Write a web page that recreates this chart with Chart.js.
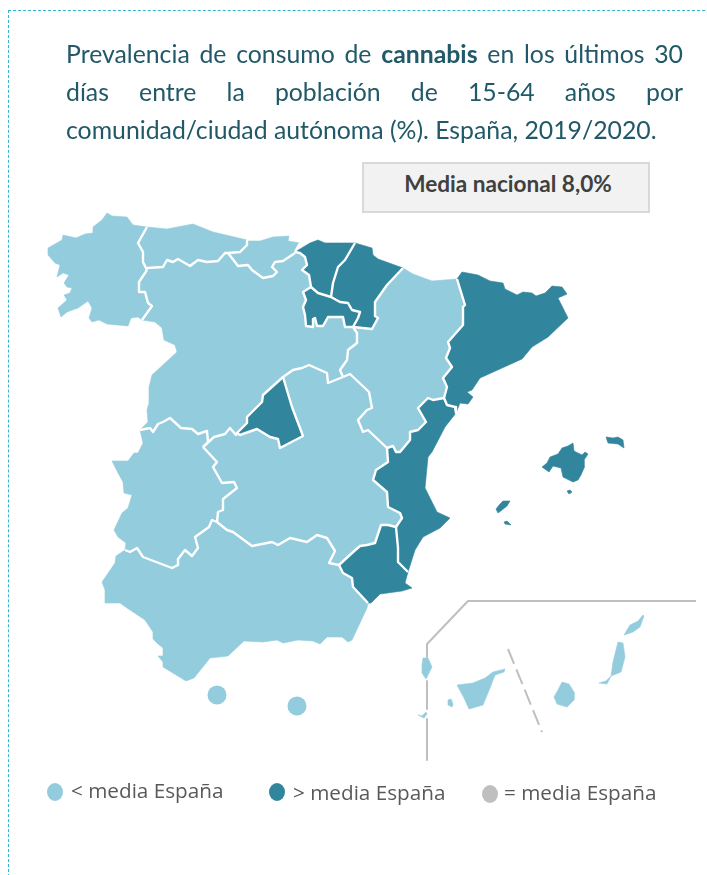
<!DOCTYPE html>
<html lang="es">
<head>
<meta charset="utf-8">
<title>Prevalencia de consumo de cannabis</title>
<script src="https://cdn.jsdelivr.net/npm/chart.js@4"></script>
<style>
    html, body { margin: 0; padding: 0; background: #fff; }
    #page { position: relative; width: 707px; height: 875px; overflow: hidden; }
    #frame { position: absolute; left: 8px; top: 10px; width: 720px; height: 900px; border: 1px dashed #35b5cf; }
    #mapChart { position: absolute; left: 0; top: 0; }
    #title { position: absolute; left: 66px; top: 35px; width: 617px; font: 24.8px/38px Lato, sans-serif; color: #215968; }
    #title div { text-align: justify; text-align-last: justify; white-space: nowrap; }
    #title div.last { text-align-last: left; }
    #mediaBox { position: absolute; left: 362px; top: 162px; width: 284px; height: 47px; background: #f2f2f2; border: 2px solid #d9d9d9;
        font: bold 22.6px/39px Lato, sans-serif; color: #404040; text-align: center; text-indent: 4px; }
    .legendText { position: absolute; font: 20.7px/24px "Open Sans", sans-serif; color: #595959; white-space: nowrap; }
    .legendDot { position: absolute; width: 16px; height: 18px; border-radius: 50%; }
</style>
</head>
<body>
<div id="page">
    <div id="frame"></div>
    <canvas id="mapChart" width="707" height="875"></canvas>
    <div id="title">
        <div>Prevalencia de consumo de <b>cannabis</b> en los últimos 30</div>
        <div>días entre la población de 15-64 años por</div>
        <div class="last">comunidad/ciudad autónoma (%). España, 2019/2020.</div>
    </div>
    <div id="mediaBox">Media nacional 8,0%</div>
    <div class="legendDot" style="left:47px;top:783px;background:#93ccdd"></div>
    <div class="legendText" style="left:71px;top:778px">&lt; media España</div>
    <div class="legendDot" style="left:269px;top:783px;background:#31859c"></div>
    <div class="legendText" style="left:293px;top:780px">&gt; media España</div>
    <div class="legendDot" style="left:482px;top:785px;background:#bfbfbf"></div>
    <div class="legendText" style="left:504px;top:780px">= media España</div>
</div>

<script>
// region outlines
const galicia = [[48,248],[62,240],[63,235],[76,238],[85,234],[93,233],[93,227],[102,220],[107,213],[112,216],[127,217],[133,225],[147,227],[138,243],[143,252],[143,262],[147,270],[139,282],[139,292],[145,292],[148,303],[152,306],[142,320],[138,317],[131,318],[128,326],[107,324],[99,320],[92,322],[89,318],[92,308],[88,301],[78,308],[67,312],[61,317],[58,308],[67,300],[64,295],[70,293],[72,288],[67,287],[64,283],[69,275],[63,273],[57,277],[60,265],[55,263],[48,255]];
const asturias = [[147,227],[167,229],[193,224],[213,232],[247,240],[247,245],[240,252],[228,253],[225,253],[218,261],[207,262],[198,260],[190,266],[178,259],[173,262],[167,260],[163,267],[147,268],[143,262],[143,252],[138,243]];
const cantabria = [[247,241],[260,241],[273,237],[289,236],[288,241],[300,243],[295,253],[283,261],[275,262],[272,267],[277,272],[273,276],[263,278],[252,270],[248,265],[238,266],[230,258],[228,253],[240,252],[247,245]];
const paisVasco = [[295,252],[310,243],[318,240],[325,243],[355,243],[345,260],[338,267],[333,283],[331,297],[318,293],[311,287],[309,275],[302,270],[307,265],[305,257],[300,253]];
const navarra = [[355,243],[372,248],[373,255],[378,259],[403,268],[387,285],[375,302],[375,316],[378,318],[372,329],[353,327],[358,318],[360,312],[352,310],[348,303],[340,302],[331,297],[333,283],[338,267],[345,260]];
const laRioja = [[311,287],[318,293],[331,297],[340,302],[348,303],[352,310],[360,312],[358,318],[353,327],[345,327],[343,317],[328,317],[323,326],[317,326],[315,318],[313,319],[313,327],[306,326],[305,315],[303,307],[306,300],[303,292]];
const aragon = [[403,268],[413,274],[432,281],[457,279],[465,305],[463,307],[463,325],[448,342],[450,348],[446,358],[452,367],[443,378],[447,387],[444,398],[433,400],[428,398],[418,408],[426,422],[418,430],[410,432],[410,440],[400,452],[396,452],[393,446],[387,448],[368,430],[363,432],[358,420],[367,410],[372,408],[369,392],[350,374],[343,377],[340,370],[347,360],[348,350],[357,343],[357,333],[353,327],[372,329],[378,318],[375,316],[375,302],[387,285]];
const cataluna = [[457,279],[462,272],[478,275],[490,281],[503,283],[505,289],[517,295],[523,292],[532,293],[536,296],[545,293],[552,286],[562,287],[567,294],[558,298],[563,308],[568,318],[548,337],[532,347],[522,359],[480,378],[472,390],[467,392],[473,397],[468,404],[460,403],[456,413],[455,407],[447,405],[444,398],[447,387],[443,378],[452,367],[446,358],[450,348],[448,342],[463,325],[463,307],[465,305]];
const valencia = [[418,408],[428,398],[433,400],[444,398],[447,405],[455,407],[456,413],[445,427],[432,452],[428,457],[425,488],[437,512],[450,518],[440,528],[423,537],[415,550],[408,572],[398,562],[398,548],[396,527],[402,518],[400,513],[388,507],[387,492],[373,480],[376,470],[388,462],[387,448],[393,446],[396,452],[400,452],[410,440],[410,432],[418,430],[426,422]];
const murcia = [[339,565],[352,553],[360,546],[367,545],[375,543],[381,525],[388,525],[396,527],[398,548],[398,562],[408,572],[405,583],[412,588],[402,591],[380,594],[371,603],[368,603],[353,587],[352,578],[343,573]];
const andalucia = [[102,582],[115,563],[116,556],[125,550],[130,552],[137,548],[143,557],[172,568],[178,565],[178,559],[185,550],[192,556],[198,548],[195,537],[209,527],[212,520],[217,522],[227,530],[233,532],[252,546],[272,542],[278,545],[290,538],[307,542],[317,535],[327,538],[335,551],[329,563],[339,565],[343,573],[352,578],[353,587],[368,603],[367,608],[352,640],[348,642],[342,637],[327,637],[320,644],[313,641],[298,640],[283,643],[277,640],[263,642],[244,641],[228,656],[210,658],[198,673],[194,678],[186,681],[163,667],[163,662],[158,656],[163,656],[163,648],[158,644],[153,639],[153,632],[145,620],[127,608],[120,603],[105,603],[105,590]];
const extremadura = [[140,430],[150,428],[153,432],[158,424],[163,422],[170,418],[181,428],[192,429],[198,434],[207,431],[208,442],[203,447],[217,462],[213,467],[222,483],[234,482],[237,488],[223,499],[223,510],[218,512],[217,522],[212,520],[209,527],[195,537],[198,548],[192,556],[185,550],[178,559],[178,565],[172,568],[143,557],[137,548],[130,552],[125,550],[126,543],[118,537],[114,530],[122,513],[128,508],[132,495],[124,493],[123,482],[118,473],[112,461],[128,461],[134,453],[138,453],[143,443]];
const castillaMancha = [[203,447],[214,437],[225,434],[230,428],[236,435],[240,435],[257,429],[270,437],[278,439],[280,448],[303,436],[292,407],[283,377],[293,370],[302,368],[309,365],[327,373],[328,383],[343,377],[350,374],[369,392],[372,408],[367,410],[358,420],[363,432],[368,430],[387,448],[388,462],[376,470],[373,480],[387,492],[388,507],[400,513],[402,518],[396,527],[388,525],[381,525],[375,543],[367,545],[360,546],[352,553],[339,565],[329,563],[335,551],[327,538],[317,535],[307,542],[290,538],[278,545],[272,542],[252,546],[233,532],[227,530],[217,522],[218,512],[223,510],[223,499],[237,488],[234,482],[222,483],[213,467],[217,462]];
const madrid = [[283,377],[263,395],[262,402],[247,417],[247,423],[237,433],[240,435],[257,429],[270,437],[278,439],[280,448],[303,436],[292,407]];
const castillaLeon = [[147,268],[163,267],[167,260],[173,262],[178,259],[190,266],[198,260],[207,262],[218,261],[225,253],[228,253],[238,266],[248,265],[252,270],[263,278],[273,276],[277,272],[272,267],[275,262],[283,261],[295,253],[300,253],[305,257],[307,265],[302,270],[309,275],[311,287],[303,292],[306,300],[303,307],[305,315],[306,326],[313,327],[313,319],[315,318],[317,326],[323,326],[328,317],[343,317],[345,327],[353,327],[357,333],[357,343],[348,350],[347,360],[340,370],[343,377],[328,383],[327,373],[309,365],[302,368],[293,370],[283,377],[263,395],[262,402],[247,417],[247,423],[237,433],[236,435],[230,428],[225,434],[214,437],[203,447],[208,442],[207,431],[198,434],[192,429],[181,428],[170,418],[163,422],[158,424],[153,432],[150,428],[140,430],[148,422],[147,410],[149,403],[149,387],[152,375],[177,352],[175,345],[164,340],[162,328],[155,322],[142,320],[152,306],[148,303],[145,292],[139,292],[139,282]];

// islands
const mallorca = [[542,467],[547,463],[550,457],[558,454],[562,448],[568,446],[573,443],[574,451],[582,455],[585,452],[588,454],[584,460],[584,468],[581,475],[578,480],[573,482],[563,477],[561,468],[553,466],[549,472]];
const menorca = [[606,437],[613,438],[618,437],[623,440],[624,448],[618,444],[608,443]];
const ibiza = [[496,509],[500,504],[503,501],[510,501],[507,506],[502,510],[498,513]];
const formentera = [[504,522],[507,521],[511,525],[505,524]];
const cabrera = [[567,491],[570,490],[572,492],[569,494]];
const laPalma = [[423,658],[428,658],[432,667],[426,679],[422,673],[422,665]];
const elHierro = [[418,715],[422,716],[426,712],[427,714],[424,718]];
const laGomera = [[448,700],[451,699],[453,704],[452,707],[448,705]];
const tenerife = [[457,685],[473,683],[485,678],[493,672],[505,669],[504,672],[495,675],[490,688],[483,705],[469,709],[464,698]];
const granCanaria = [[562,682],[569,684],[574,692],[574,700],[567,707],[557,704],[554,697],[558,690]];
const fuerteventura = [[618,642],[623,643],[625,657],[621,672],[611,676],[613,662]];
const jandia = [[611,676],[607,684],[599,683],[606,681]];
const lanzarote = [[624,635],[630,625],[638,621],[643,615],[644,616],[640,627],[633,632],[627,634]];

// white lines between neighbouring regions
const internalBorders = [
    [[147,227],[138,243],[143,252],[143,262],[147,270]],
    [[147,270],[139,282],[139,292],[145,292],[148,303],[152,306],[142,320]],
    [[147,268],[163,267],[167,260],[173,262],[178,259],[190,266],[198,260],[207,262],[218,261],[225,253],[228,253]],
    [[247,241],[247,245],[240,252],[228,253]],
    [[228,253],[238,266],[248,265],[252,270],[263,278],[273,276],[277,272],[272,267],[275,262],[283,261],[295,253]],
    [[300,243],[295,252]],
    [[295,252],[300,253],[305,257],[307,265],[302,270],[309,275],[311,287]],
    [[355,243],[345,260],[338,267],[333,283],[331,297]],
    [[311,287],[318,293],[331,297]],
    [[331,297],[340,302],[348,303],[352,310],[360,312],[358,318],[353,327]],
    [[311,287],[303,292],[306,300],[303,307],[305,315],[306,326],[313,327],[313,319],[315,318],[317,326],[323,326],[328,317],[343,317],[345,327],[353,327]],
    [[403,268],[387,285],[375,302],[375,316],[378,318],[372,329],[353,327]],
    [[353,327],[357,333],[357,343],[348,350],[347,360],[340,370],[343,377]],
    [[343,377],[328,383],[327,373],[309,365],[302,368],[293,370],[283,377],[263,395],[262,402],[247,417],[247,423],[237,433],[236,435],[230,428],[225,434],[214,437],[203,447]],
    [[140,430],[150,428],[153,432],[158,424],[163,422],[170,418],[181,428],[192,429],[198,434],[207,431],[208,442],[203,447]],
    [[203,447],[217,462],[213,467],[222,483],[234,482],[237,488],[223,499],[223,510],[218,512],[217,522]],
    [[217,522],[212,520],[209,527],[195,537],[198,548],[192,556],[185,550],[178,559],[178,565],[172,568],[143,557],[137,548],[130,552],[125,550]],
    [[217,522],[227,530],[233,532],[252,546],[272,542],[278,545],[290,538],[307,542],[317,535],[327,538],[335,551],[329,563],[339,565]],
    [[339,565],[343,573],[352,578],[353,587],[368,603]],
    [[339,565],[352,553],[360,546],[367,545],[375,543],[381,525],[388,525],[396,527]],
    [[396,527],[398,548],[398,562],[408,572]],
    [[396,527],[402,518],[400,513],[388,507],[387,492],[373,480],[376,470],[388,462],[387,448]],
    [[387,448],[368,430],[363,432],[358,420],[367,410],[372,408],[369,392],[350,374],[343,377]],
    [[387,448],[393,446],[396,452],[400,452],[410,440],[410,432],[418,430],[426,422],[418,408],[428,398],[433,400],[444,398]],
    [[457,279],[465,305],[463,307],[463,325],[448,342],[450,348],[446,358],[452,367],[443,378],[447,387],[444,398]],
    [[444,398],[447,405],[455,407],[456,413]],
    [[237,433],[240,435],[257,429],[270,437],[278,439],[280,448],[303,436],[292,407],[283,377]]
];

const ceutaMelilla = [[217,695],[297,706]];
const canariasFrameTop = [[696,601],[468,601],[427,644],[427,657]];
const canariasFrameMiddle = [[427,681],[427,709]];
const canariasFrameBottom = [[427,719],[427,760]];
const canariasDash = [[508,649],[542,732]];

const aboveAverage = [paisVasco, navarra, laRioja, cataluna, valencia, murcia, madrid, mallorca, menorca, ibiza, formentera, cabrera];
const belowAverage = [galicia, asturias, cantabria, aragon, andalucia, extremadura, castillaMancha, castillaLeon, laPalma, elHierro, laGomera, tenerife, granCanaria, fuerteventura, jandia, lanzarote];

const lightBlue = '#93ccdd';
const darkBlue = '#31859c';
const frameGrey = '#bfbfbf';

function toPoints(pairs) {
    return pairs.map(p => ({ x: p[0], y: p[1] }));
}

function regionDataset(outline, colour) {
    return {
        data: toPoints(outline.concat([outline[0]])),
        showLine: true,
        fill: 'shape',
        backgroundColor: colour,
        borderColor: colour,
        borderWidth: 0.6,
        borderJoinStyle: 'round',
        pointRadius: 0,
        tension: 0
    };
}

function lineDataset(pairs, colour, width, dash) {
    return {
        data: toPoints(pairs),
        showLine: true,
        fill: false,
        borderColor: colour,
        borderWidth: width,
        borderDash: dash || [],
        borderJoinStyle: 'round',
        pointRadius: 0,
        tension: 0
    };
}

document.addEventListener("DOMContentLoaded", function() {
    // first dataset is painted last, so the white lines go in front
    const datasets = [];
    internalBorders.forEach(b => datasets.push(lineDataset(b, '#ffffff', 2.4)));
    aboveAverage.forEach(r => datasets.push(regionDataset(r, darkBlue)));
    belowAverage.forEach(r => datasets.push(regionDataset(r, lightBlue)));

    datasets.push({
        data: toPoints(ceutaMelilla),
        showLine: false,
        backgroundColor: lightBlue,
        borderWidth: 0,
        pointRadius: 9.5
    });
    datasets.push(lineDataset(canariasFrameTop, frameGrey, 2));
    datasets.push(lineDataset(canariasFrameMiddle, frameGrey, 2));
    datasets.push(lineDataset(canariasFrameBottom, frameGrey, 2));
    datasets.push(lineDataset(canariasDash, frameGrey, 2, [16, 6]));

    new Chart(document.getElementById('mapChart').getContext('2d'), {
        type: 'scatter',
        data: { datasets: datasets },
        options: {
            responsive: false,
            animation: false,
            layout: { padding: 0, autoPadding: false },
            plugins: { legend: { display: false }, tooltip: { enabled: false } },
            scales: {
                x: { type: 'linear', min: 0, max: 707, display: false },
                y: { type: 'linear', min: 0, max: 875, reverse: true, display: false }
            }
        }
    });
});
</script>
</body>
</html>
